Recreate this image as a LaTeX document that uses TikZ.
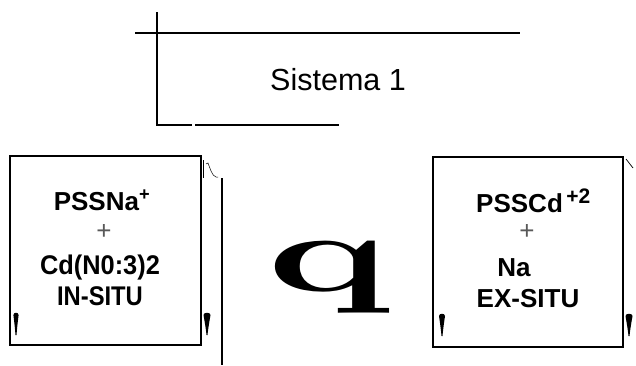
\documentclass[tikz,border=0pt]{standalone}
\usepackage{fontspec}
\newfontfamily\arialfont{Liberation Sans}
\begin{document}
\begin{tikzpicture}[x=1pt,y=-1pt,
  frame/.style={line width=1.5pt},
  rule/.style={line width=1.8pt},
  lbl/.style={font=\arialfont\bfseries\fontsize{26}{28}\selectfont, inner sep=0pt, anchor=base},
  big/.style={font=\arialfont\bfseries\fontsize{27}{28}\selectfont, inner sep=0pt, anchor=base},
  plus/.style={font=\arialfont\fontsize{26}{28}\selectfont, text=black!65, inner sep=0pt},
]
\useasboundingbox (0,0) rectangle (636,365);
% top title block
\coordinate (vt) at (157,12);
\coordinate (vb) at (157,125);
\coordinate (hl) at (135,33);
\coordinate (hr) at (520,33);
\coordinate (b1) at (192,125);
\coordinate (b2) at (195,125);
\coordinate (b3) at (339,125);
\draw[rule] (vt) -- (vb) -- (b1);
\draw[rule] (b2) -- (b3);
\draw[rule] (hl) -- (hr);
\node[font=\arialfont\fontsize{30.5}{33}\selectfont, inner sep=0pt] (title) at (338,80) {Sistema 1};

% left box
\draw[frame] (10,156) rectangle (201,345);
\coordinate (lt) at (222,178);
\coordinate (lb) at (222,365);
\draw[rule] (lt) -- (lb);
\draw[line width=0.7pt] (203,160) -- (203,178);
\draw[line width=0.5pt] (206,164) -- (208,163) .. controls (210,168) and (212,176) .. (216,177) -- (218,177);
\node[lbl] (l1) at (102,210) {PSSNa\textsuperscript{+}};
\node[plus] (l2) at (104,232) {+};
\node[big, xscale=0.94] (l3) at (100,274) {Cd(N0:3)2};
\node[big, xscale=0.88] (l4) at (100,305) {IN-SITU};

% right box
\draw[frame] (433,157) rectangle (623,347);
\draw[line width=0.7pt] (626,159) -- (633,168);
\node[lbl, anchor=base west] (r1) at (476,212) {PSSCd\raisebox{9pt}{\fontsize{21}{22}\selectfont\,+2}};
\node[plus] (r2) at (527,232) {+};
\node[lbl] (r3) at (514,276) {Na};
\node[lbl] (r4) at (528,307) {EX-SITU};

% big q
\node[font=\bfseries\fontsize{112}{112}\selectfont, inner sep=0pt, xscale=1.85] (q) at (329,277) {q};

% teardrop markers
\foreach \mx/\my/\w in {16/313/2.6, 207/313/3.5, 442/314/3, 629/314/3.5}{
  \fill (\mx-\w,\my+2) .. controls (\mx-\w,\my-1) and (\mx+\w,\my-1) .. (\mx+\w,\my+2)
        .. controls (\mx+\w*0.6,\my+10) and (\mx+0.8,\my+18) .. (\mx+0.5,\my+22)
        -- (\mx-0.5,\my+22) .. controls (\mx-0.8,\my+18) and (\mx-\w*0.6,\my+10) .. cycle;
}
\end{tikzpicture}
\end{document}
